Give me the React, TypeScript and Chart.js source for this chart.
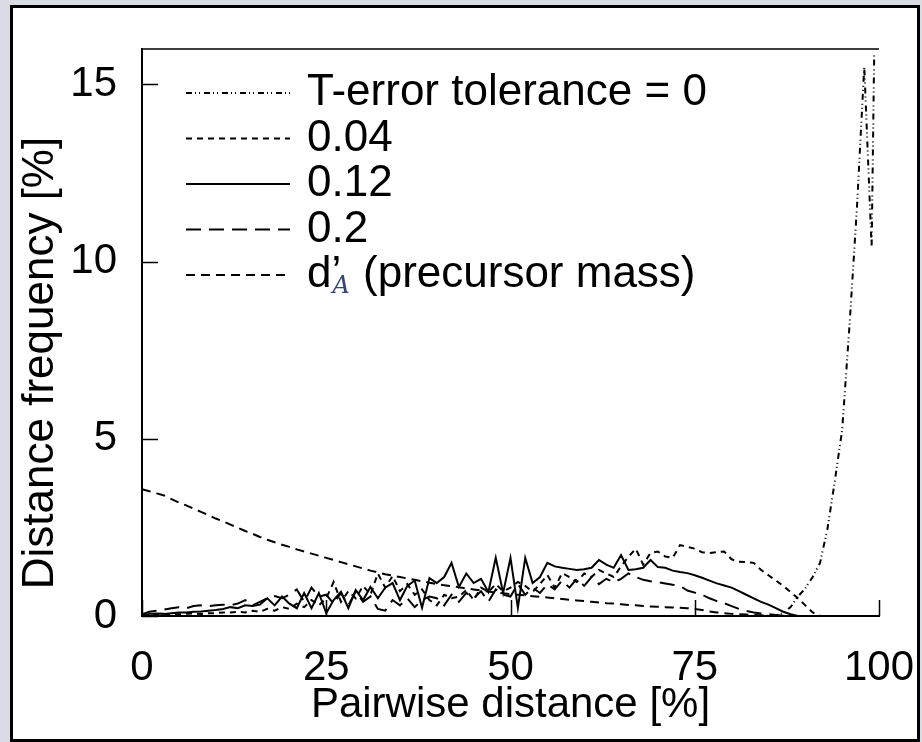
import React, { useEffect, useRef } from 'react';
import { Chart, registerables } from 'chart.js';

Chart.register(...registerables);

// ---------- data ----------
const seriesLabels = ['T-error tolerance = 0', '0.04', '0.12', '0.2', 'd’_A (precursor mass)'];
const xTitle = 'Pairwise distance [%]';
const yTitle = 'Distance frequency [%]';

// T-error tolerance = 0 (sparse x / y)
const t0X = [0, 84, 85, 86, 87, 88, 89, 90, 91, 92, 93, 94, 95, 96, 97, 98, 99, 99.35];
const t0Y = [0, 0, 0.01, 0.02, 0.08, 0.25, 0.55, 0.78, 1.1, 1.5, 2.45, 3.8, 5.25, 8.2, 11.5, 15.5, 10.4, 15.9];

// values at pairwise distance 0,1,2,...,99 %
const tol004 = [
  0.02, 0.03, 0.04, 0.04, 0.05, 0.05, 0.06, 0.07, 0.06, 0.08,
  0.08, 0.1, 0.1, 0.12, 0.1, 0.15, 0.12, 0.2, 0.15, 0.25,
  0.2, 0.35, 0.25, 0.45, 0.3, 0.5, 0.96, 0.4, 0.7, 0.5,
  0.85, 0.6, 1.2, 0.8, 1.13, 0.7, 0.9, 0.6, 0.75, 0.45,
  0.3, 0.6, 0.5, 0.55, 0.73, 0.45, 0.8, 0.68, 0.9, 0.7,
  0.8, 0.96, 0.85, 0.68, 0.9, 1.16, 0.8, 1.21, 1.1, 0.96,
  1.2, 1.1, 1.3, 1.2, 1.1, 1.4, 1.67, 1.9, 1.45, 1.78,
  1.82, 1.68, 1.64, 2.0, 1.95, 1.9, 1.8, 1.78, 1.8, 1.82,
  1.6, 1.53, 1.52, 1.5, 1.3, 1.15, 1.0, 0.85, 0.68, 0.5,
  0.3, 0.1, 0.0, 0, 0, 0, 0, 0, 0, 0,
];

const tol012 = [
  0, 0.06, 0.07, 0.06, 0.08, 0.1, 0.1, 0.12, 0.13, 0.15,
  0.17, 0.2, 0.25, 0.22, 0.3, 0.28, 0.32, 0.5, 0.3, 0.55,
  0.35, 0.22, 0.65, 0.22, 0.65, 0.08, 0.45, 0.68, 0.22, 0.73,
  0.45, 0.82, 0.5, 0.8, 0.93, 0.45, 0.85, 1.0, 0.23, 1.07,
  0.93, 1.1, 1.5, 0.82, 1.2, 0.93, 1.05, 0.68, 1.64, 0.65,
  1.64, 0.23, 1.64, 0.93, 1.1, 1.5, 1.4, 1.36, 1.33, 1.3,
  1.32, 1.36, 1.58, 1.45, 1.36, 1.72, 1.3, 1.32, 1.36, 1.58,
  1.38, 1.36, 1.28, 1.24, 1.21, 1.15, 1.08, 1.0, 0.92, 0.86,
  0.8, 0.7, 0.6, 0.5, 0.4, 0.32, 0.22, 0.12, 0.05, 0.0,
  0, 0, 0, 0, 0, 0, 0, 0, 0, 0,
];

const tol02 = [
  0.05, 0.12, 0.15, 0.18, 0.22, 0.25, 0.22, 0.28, 0.3, 0.28,
  0.3, 0.32, 0.3, 0.35, 0.45, 0.3, 0.4, 0.5, 0.56, 0.5,
  0.6, 0.75, 0.4, 0.8, 0.55, 0.6, 0.35, 0.65, 0.3, 0.7,
  0.4, 0.55, 0.2, 0.15, 0.45, 0.3, 0.5, 0.25, 0.45, 0.55,
  0.5, 0.3, 0.6, 0.4, 0.65, 0.5, 0.7, 0.4, 0.75, 0.6,
  0.55, 0.9, 0.6, 0.8, 0.65, 0.9, 0.75, 1.0, 0.8, 1.05,
  0.85, 1.1, 0.9, 1.05, 0.95, 1.05, 1.2, 1.1, 1.02, 0.98,
  0.95, 0.92, 0.88, 0.85, 0.72, 0.66, 0.6, 0.5, 0.42, 0.36,
  0.28, 0.2, 0.14, 0.1, 0.07, 0.05, 0.03, 0.01, 0, 0,
  0, 0, 0, 0, 0, 0, 0, 0, 0, 0,
];

const precursor = [
  3.58, 3.52, 3.46, 3.4, 3.3, 3.2, 3.12, 3.03, 2.94, 2.85,
  2.75, 2.67, 2.58, 2.49, 2.4, 2.32, 2.23, 2.15, 2.08, 2.01,
  1.95, 1.88, 1.82, 1.76, 1.7, 1.64, 1.58, 1.52, 1.46, 1.4,
  1.34, 1.28, 1.23, 1.18, 1.14, 1.1, 1.06, 1.02, 0.98, 0.94,
  0.9, 0.87, 0.84, 0.81, 0.78, 0.75, 0.72, 0.69, 0.66, 0.64,
  0.62, 0.6, 0.58, 0.56, 0.54, 0.52, 0.5, 0.48, 0.46, 0.44,
  0.42, 0.4, 0.38, 0.36, 0.35, 0.33, 0.31, 0.3, 0.28, 0.27,
  0.26, 0.25, 0.24, 0.23, 0.22, 0.2, 0.17, 0.13, 0.1, 0.08,
  0.06, 0.05, 0.04, 0.03, 0.02, 0.01, 0, 0, 0, 0,
  0, 0, 0, 0, 0, 0, 0, 0, 0, 0,
];

const xTicks = [0, 25, 50, 75, 100];
const yTicks = [0, 5, 10, 15];

const FONT = '"Liberation Sans", Arial, Helvetica, sans-serif';

function toPoints(vals: number[]) {
  return vals.map((v, i) => ({ x: i, y: v }));
}

const framePlugin = {
  id: 'frameTicks',
  afterDatasetsDraw(chart: any) {
    const { ctx, chartArea: ca, scales } = chart;
    const xs = scales.x;
    const ys = scales.y;
    ctx.save();
    ctx.strokeStyle = '#000';
    ctx.lineWidth = 1.5;
    ctx.setLineDash([]);
    ctx.beginPath();
    ctx.moveTo(ca.left, ca.top);
    ctx.lineTo(ca.right, ca.top);
    xTicks.forEach((v) => {
      const px = Math.round(xs.getPixelForValue(v)) + 0.5;
      ctx.moveTo(px, ca.bottom);
      ctx.lineTo(px, ca.bottom - 16);
    });
    yTicks.forEach((v) => {
      const py = Math.round(ys.getPixelForValue(v)) + 0.5;
      ctx.moveTo(ca.left, py);
      ctx.lineTo(ca.left + 16, py);
    });
    ctx.stroke();

    // y axis title (rotated), slightly below the plot centre as in the original
    ctx.save();
    ctx.translate(41, 363);
    ctx.rotate(-Math.PI / 2);
    ctx.fillStyle = '#000';
    ctx.textAlign = 'center';
    ctx.textBaseline = 'middle';
    ctx.font = `44px ${FONT}`;
    ctx.fillText(yTitle, 0, 0);
    ctx.restore();

    // legend inside plot
    const x1 = 186;
    const x2 = 290;
    const tx = 307;
    const y0 = 93;
    const dy = 45.5;
    chart.data.datasets.forEach((ds: any, i: number) => {
      const y = y0 + i * dy;
      ctx.strokeStyle = '#000';
      ctx.lineWidth = 2;
      ctx.setLineDash(ds.borderDash || []);
      ctx.beginPath();
      ctx.moveTo(x1, y);
      ctx.lineTo(x2, y);
      ctx.stroke();
      ctx.setLineDash([]);
      ctx.fillStyle = '#000';
      ctx.textBaseline = 'middle';
      ctx.textAlign = 'left';
      ctx.font = `44px ${FONT}`;
      const label: string = ds.label;
      const u = label.indexOf('_');
      if (u < 0) {
        ctx.fillText(label, tx, y);
      } else {
        const before = label.slice(0, u);
        const sub = label.slice(u + 1, u + 2);
        const after = label.slice(u + 2);
        ctx.fillText(before, tx, y);
        const dW = ctx.measureText(before.slice(0, 1)).width;
        const endBefore = tx + ctx.measureText(before).width;
        const sx = tx + dW + 1;
        ctx.font = `italic 24px "DejaVu Serif", "Liberation Serif", serif`;
        ctx.fillStyle = '#34457a';
        ctx.fillText(sub, sx, y + 12);
        const endSub = sx + ctx.measureText(sub).width;
        ctx.fillStyle = '#000';
        ctx.font = `44px ${FONT}`;
        ctx.fillText(after, Math.max(endBefore, endSub) + 1, y);
      }
    });
    ctx.restore();
  },
};

export default function App() {
  const ref = useRef<HTMLCanvasElement | null>(null);
  useEffect(() => {
    document.body.style.margin = '0';
    if (!ref.current) return;
    const common = {
      borderColor: '#000',
      borderWidth: 2,
      pointRadius: 0,
      fill: false,
      tension: 0,
    };
    const chart = new Chart(ref.current, {
      type: 'line',
      data: {
        datasets: [
          { ...common, label: seriesLabels[0], data: t0X.map((x, i) => ({ x, y: t0Y[i] })), borderDash: [6, 3, 1, 3, 1, 4] },
          { ...common, label: seriesLabels[1], data: toPoints(tol004), borderDash: [6, 5] },
          { ...common, label: seriesLabels[2], data: toPoints(tol012), borderDash: [] },
          { ...common, label: seriesLabels[3], data: toPoints(tol02), borderDash: [15, 8] },
          { ...common, label: seriesLabels[4], data: toPoints(precursor), borderDash: [9, 6] },
        ],
      },
      options: {
        animation: false,
        responsive: false,
        events: [],
        layout: { padding: { left: 0, top: 49, right: 43, bottom: 0 } },
        plugins: { legend: { display: false }, tooltip: { enabled: false } },
        scales: {
          x: {
            type: 'linear',
            min: 0,
            max: 100,
            afterBuildTicks: (s: any) => { s.ticks = xTicks.map((v) => ({ value: v })); },
            afterFit: (s: any) => { s.height = 126; s.paddingLeft = 0; s.paddingRight = 0; },
            grid: { display: false, drawTicks: false },
            border: { display: true, color: '#000', width: 2 },
            ticks: { color: '#000', font: { family: FONT, size: 42 }, padding: 27, maxRotation: 0, autoSkip: false },
            title: { display: true, text: xTitle, color: '#000', font: { family: FONT, size: 42, lineHeight: 1 }, padding: { top: 0, bottom: 16 } },
          },
          y: {
            type: 'linear',
            min: 0,
            max: 16,
            afterBuildTicks: (s: any) => { s.ticks = yTicks.map((v) => ({ value: v })); },
            afterFit: (s: any) => { s.width = 142; s.paddingTop = 0; s.paddingBottom = 0; },
            grid: { display: false, drawTicks: false },
            border: { display: true, color: '#000', width: 2 },
            ticks: { color: '#000', font: { family: FONT, size: 42 }, padding: 25 },
            title: { display: false },
          },
        },
      },
      plugins: [framePlugin],
    });
    return () => chart.destroy();
  }, []);

  return (
    <div style={{ position: 'relative', width: 922, height: 742, background: '#d9dde3', overflow: 'hidden' }}>
      <div style={{ position: 'absolute', left: 10, top: 5, width: 910, height: 737, boxSizing: 'border-box', border: '3px solid #000', background: '#fff' }} />
      <canvas ref={ref} width={922} height={742} style={{ position: 'absolute', left: 0, top: 0 }} />
    </div>
  );
}
